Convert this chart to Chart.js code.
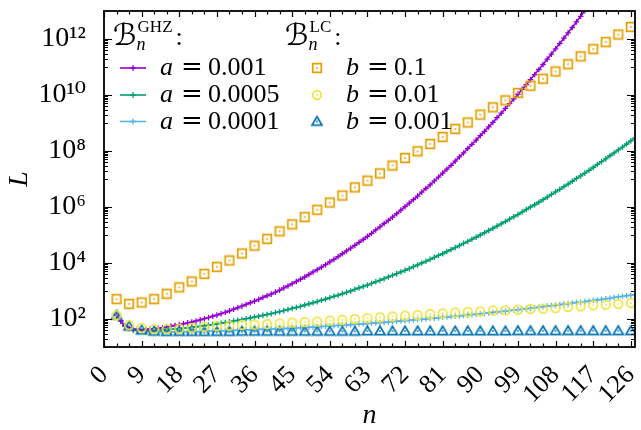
<!DOCTYPE html>
<html>
<head>
<meta charset="utf-8">
<script src="https://cdn.jsdelivr.net/npm/chart.js@4.4.1/dist/chart.umd.min.js"></script>
<style>
  html, body { margin: 0; padding: 0; background: #fff; }
  canvas { display: block; }
</style>
</head>
<body>
<canvas id="c" width="641" height="430"></canvas>
<script>
// ---------------- data (values are log10 of L) ----------------
const nGHZ = [3,4,5,6,7,8,9,10,11,12,13,14,15,16,17,18,19,20,21,22,23,24,25,26,27,28,29,30,31,32,
  33,34,35,36,37,38,39,40,41,42,43,44,45,46,47,48,49,50,51,52,53,54,55,56,57,58,59,60,61,62,
  63,64,65,66,67,68,69,70,71,72,73,74,75,76,77,78,79,80,81,82,83,84,85,86,87,88,89,90,91,92,
  93,94,95,96,97,98,99,100,101,102,103,104,105,106,107,108,109,110,111,112,113,114,115,116,117,118,119,120,121,122,
  123,124,125,126,127];
const nLC = [3,6,9,12,15,18,21,24,27,30,33,36,39,42,45,48,51,54,57,60,63,66,69,72,75,78,81,84,87,90,
  93,96,99,102,105,108,111,114,117,120,123,126];

const lgA001 = [2.14,1.93,1.76,1.68,1.64,1.63,1.62,1.63,1.64,1.65,
  1.67,1.69,1.72,1.74,1.77,1.80,1.83,1.86,1.89,1.93,
  1.97,2.01,2.05,2.10,2.14,2.19,2.24,2.29,2.35,2.40,
  2.46,2.52,2.58,2.64,2.70,2.77,2.83,2.89,2.96,3.03,
  3.11,3.18,3.26,3.34,3.42,3.50,3.59,3.68,3.76,3.85,
  3.94,4.04,4.13,4.23,4.33,4.43,4.53,4.63,4.74,4.84,
  4.95,5.06,5.18,5.29,5.41,5.52,5.64,5.76,5.89,6.01,
  6.14,6.26,6.39,6.53,6.66,6.79,6.93,7.07,7.21,7.35,
  7.49,7.64,7.79,7.93,8.09,8.24,8.39,8.55,8.70,8.86,
  9.02,9.19,9.35,9.52,9.69,9.86,10.03,10.20,10.37,10.55,
  10.73,10.91,11.09,11.28,11.46,11.65,11.84,12.03,12.22,12.41,
  12.61,12.81,13.01,13.21,13.41];
const lgA0005 = [2.13,1.93,1.75,1.67,1.62,1.60,1.59,1.58,1.58,1.58,
  1.59,1.61,1.62,1.63,1.65,1.66,1.67,1.68,1.70,1.72,
  1.74,1.76,1.78,1.80,1.83,1.85,1.87,1.90,1.93,1.95,
  1.98,2.01,2.04,2.07,2.10,2.13,2.16,2.19,2.23,2.26,
  2.30,2.34,2.38,2.41,2.45,2.50,2.54,2.58,2.62,2.67,
  2.71,2.76,2.81,2.85,2.90,2.95,3.00,3.06,3.11,3.16,
  3.21,3.27,3.33,3.38,3.44,3.50,3.56,3.62,3.68,3.74,
  3.80,3.87,3.93,4.00,4.06,4.13,4.20,4.27,4.33,4.41,
  4.48,4.55,4.62,4.70,4.77,4.85,4.92,5.00,5.08,5.16,
  5.24,5.32,5.40,5.48,5.57,5.65,5.73,5.82,5.91,6.00,
  6.08,6.17,6.26,6.35,6.45,6.54,6.63,6.73,6.82,6.92,
  7.02,7.11,7.21,7.31,7.41,7.52,7.62,7.72,7.83,7.93,
  8.04,8.14,8.25,8.36,8.47];
const lgA0001 = [2.13,1.92,1.74,1.65,1.60,1.58,1.56,1.55,1.54,1.53,
  1.53,1.53,1.54,1.54,1.54,1.54,1.55,1.55,1.55,1.55,
  1.55,1.56,1.56,1.57,1.57,1.58,1.58,1.59,1.59,1.60,
  1.60,1.61,1.61,1.62,1.63,1.63,1.64,1.64,1.64,1.65,
  1.66,1.66,1.67,1.68,1.69,1.70,1.70,1.71,1.72,1.73,
  1.74,1.75,1.76,1.77,1.78,1.79,1.80,1.81,1.82,1.83,
  1.84,1.85,1.86,1.87,1.88,1.89,1.90,1.92,1.93,1.94,
  1.95,1.97,1.98,1.99,2.00,2.02,2.03,2.04,2.06,2.07,
  2.09,2.10,2.11,2.13,2.14,2.16,2.17,2.19,2.20,2.22,
  2.24,2.25,2.27,2.28,2.30,2.32,2.33,2.35,2.37,2.38,
  2.40,2.42,2.44,2.46,2.47,2.49,2.51,2.53,2.55,2.57,
  2.59,2.60,2.62,2.64,2.66,2.68,2.70,2.72,2.74,2.77,
  2.79,2.81,2.83,2.85,2.87];

const lgB01 = [2.71,2.54,2.59,2.71,2.90,3.13,3.34,3.61,3.86,4.09,4.34,4.62,4.86,5.13,5.38,5.64,5.90,6.16,6.41,6.70,
  6.94,7.20,7.48,7.75,7.99,8.25,8.50,8.79,9.02,9.30,9.56,9.81,10.07,10.33,10.58,10.84,11.10,11.38,11.64,11.89,12.16,12.43];
const lgB001 = [2.13,1.78,1.68,1.64,1.64,1.65,1.68,1.71,1.74,1.76,1.79,1.80,1.82,1.84,1.87,1.89,1.91,1.94,1.97,2.00,
  2.03,2.06,2.09,2.12,2.14,2.18,2.20,2.23,2.25,2.27,2.30,2.31,2.33,2.36,2.37,2.39,2.43,2.45,2.49,2.51,2.54,2.57];
const lgB0001 = [2.13,1.74,1.60,1.56,1.55,1.55,1.55,1.55,1.55,1.55,1.56,1.56,1.56,1.56,1.56,1.56,1.56,1.56,1.56,1.56,
  1.57,1.57,1.57,1.57,1.57,1.57,1.57,1.57,1.57,1.57,1.57,1.57,1.58,1.58,1.58,1.58,1.58,1.58,1.58,1.58,1.58,1.58];

const ghzParams = ['0.001', '0.0005', '0.0001'];
const lcParams = ['0.1', '0.01', '0.001'];

const xTickValues = [0,9,18,27,36,45,54,63,72,81,90,99,108,117,126];
const yTickValues = [1e2,1e4,1e6,1e8,1e10,1e12];
const yTickLabels = ['10\u00B2','10\u2074','10\u2076','10\u2078','10\u00B9\u2070','10\u00B9\u00B2'];

// ---------------- styling ----------------
const SERIF = '"Liberation Serif", "DejaVu Serif", serif';
const GHZ_COLORS = ['#9400d3', '#009e73', '#56b4e9'];
const LC_COLORS = ['#e69f00', '#f0e442', '#0072b2'];

function marker(shape, color) {
  const c = document.createElement('canvas');
  c.width = 14; c.height = 14;
  const g = c.getContext('2d');
  g.strokeStyle = color; g.fillStyle = color; g.lineWidth = 1.7;
  const m = 7;
  g.beginPath();
  if (shape === 'square') {
    g.rect(m - 4.3, m - 4.3, 8.6, 8.6);
  } else if (shape === 'circle') {
    g.arc(m, m, 4.3, 0, 2 * Math.PI);
  } else {
    g.moveTo(m, m - 4.8); g.lineTo(m + 5, m + 3.6); g.lineTo(m - 5, m + 3.6); g.closePath();
  }
  g.stroke();
  g.fillRect(m - 0.8, m - 0.8, 1.6, 1.6);
  return c;
}
const LC_MARKERS = [marker('square', LC_COLORS[0]), marker('circle', LC_COLORS[1]), marker('triangle', LC_COLORS[2])];

function toPoints(xs, lg) { return lg.map((v, i) => ({ x: xs[i], y: Math.pow(10, v) })); }

const ghzSeries = [lgA001, lgA0005, lgA0001];
const lcSeries = [lgB01, lgB001, lgB0001];

const datasets = [];
ghzSeries.forEach((lg, i) => {
  datasets.push({
    label: 'a = ' + ghzParams[i],
    data: toPoints(nGHZ, lg),
    showLine: true,
    borderColor: GHZ_COLORS[i],
    backgroundColor: GHZ_COLORS[i],
    borderWidth: 1.6,
    pointStyle: 'cross',
    pointRadius: 2.8,
    pointBorderWidth: 1.3,
    pointBorderColor: GHZ_COLORS[i],
    order: 2
  });
});
lcSeries.forEach((lg, i) => {
  datasets.push({
    label: 'b = ' + lcParams[i],
    data: toPoints(nLC, lg),
    showLine: false,
    borderColor: LC_COLORS[i],
    backgroundColor: LC_COLORS[i],
    pointStyle: LC_MARKERS[i],
    pointRadius: 5,
    order: 1
  });
});

// frame + inward tick marks on all four sides
const framePlugin = {
  id: 'frame',
  afterDatasetsDraw(chart) {
    const { ctx, chartArea: a, scales: { x, y } } = chart;
    ctx.save();
    ctx.strokeStyle = '#000';
    ctx.lineWidth = 1.2;
    ctx.beginPath();
    for (let v = 0; v <= 127; v += 3) {
      const px = Math.round(x.getPixelForValue(v)) + 0.5;
      const len = (v % 9 === 0) ? 6 : 3.5;
      ctx.moveTo(px, a.bottom); ctx.lineTo(px, a.bottom - len);
      ctx.moveTo(px, a.top); ctx.lineTo(px, a.top + len);
    }
    for (let e = 1; e <= 11; e += 2) {
      for (let k = 1; k <= 9; k++) {
        const py = Math.round(y.getPixelForValue(k * Math.pow(10, e))) + 0.5;
        ctx.moveTo(a.left, py); ctx.lineTo(a.left + 4, py);
        ctx.moveTo(a.right, py); ctx.lineTo(a.right - 4, py);
      }
    }
    yTickValues.forEach(v => {
      const py = Math.round(y.getPixelForValue(v)) + 0.5;
      ctx.moveTo(a.left, py); ctx.lineTo(a.left + 8, py);
      ctx.moveTo(a.right, py); ctx.lineTo(a.right - 8, py);
    });
    ctx.stroke();
    ctx.lineWidth = 1.8;
    ctx.strokeRect(a.left, a.top, a.right - a.left, a.bottom - a.top);
    ctx.restore();
  }
};

// LaTeX-like two-column legend
function header(ctx, x, base, sup) {
  ctx.font = '30px "DejaVu Serif", "DejaVu Sans", serif';
  ctx.fillText('\u212C', x, base);
  const w = ctx.measureText('\u212C').width;
  ctx.font = '17px ' + SERIF;
  ctx.fillText(sup, x + w + 1, base - 13);
  const ws = ctx.measureText(sup).width;
  ctx.font = 'italic 18px ' + SERIF;
  ctx.fillText('n', x + w, base + 5);
  ctx.font = '26px ' + SERIF;
  ctx.fillText(':', x + w + ws + 4, base);
}
function mathText(ctx, x, base, letter, value) {
  ctx.font = 'italic 26px ' + SERIF;
  ctx.fillText(letter, x, base);
  ctx.font = '26px "DejaVu Serif", serif';
  ctx.fillText('=', x + 21, base);
  ctx.font = '26px ' + SERIF;
  ctx.fillText(value, x + 48, base);
}
const legendPlugin = {
  id: 'texLegend',
  afterDraw(chart) {
    const ctx = chart.ctx;
    ctx.save();
    ctx.fillStyle = '#000';
    ctx.textBaseline = 'alphabetic';
    ctx.textAlign = 'left';
    header(ctx, 113, 45, 'GHZ');
    header(ctx, 285, 45, 'LC');
    const rowsY = [68, 95, 121.5];
    ghzParams.forEach((p, i) => {
      const yy = rowsY[i];
      ctx.strokeStyle = GHZ_COLORS[i];
      ctx.lineWidth = 1.6;
      ctx.beginPath(); ctx.moveTo(120, yy); ctx.lineTo(146, yy); ctx.stroke();
      ctx.lineWidth = 1.3;
      ctx.beginPath(); ctx.moveTo(130, yy); ctx.lineTo(136, yy); ctx.moveTo(133, yy - 3); ctx.lineTo(133, yy + 3); ctx.stroke();
      ctx.fillStyle = '#000';
      mathText(ctx, 160, yy + 7, 'a', p);
    });
    lcParams.forEach((p, i) => {
      const yy = rowsY[i];
      ctx.drawImage(LC_MARKERS[i], 317 - 7, yy - 7);
      ctx.fillStyle = '#000';
      mathText(ctx, 346, yy + 7, 'b', p);
    });
    ctx.restore();
  }
};

new Chart(document.getElementById('c'), {
  type: 'scatter',
  data: { datasets },
  options: {
    responsive: false,
    animation: false,
    devicePixelRatio: 1,
    layout: { padding: { left: 0, right: 5, top: 11, bottom: 0 } },
    plugins: { legend: { display: false }, tooltip: { enabled: false } },
    scales: {
      x: {
        type: 'linear', min: 0, max: 127,
        grid: { display: false, drawTicks: false },
        border: { display: false },
        ticks: {
          autoSkip: false, minRotation: 45, maxRotation: 45, padding: 13, color: '#000',
          font: { family: SERIF, size: 26 },
          callback: (v) => String(v)
        },
        afterBuildTicks: (s) => { s.ticks = xTickValues.map(v => ({ value: v })); },
        afterFit: (s) => { s.height = 83; s.paddingLeft = 0; s.paddingRight = 0; },
        title: { display: true, text: 'n', color: '#000', font: { family: SERIF, size: 28, style: 'italic', lineHeight: 1 }, padding: { top: 0, bottom: 0 } }
      },
      y: {
        type: 'logarithmic', min: 10, max: 1e13,
        grid: { display: false, drawTicks: false },
        border: { display: false },
        ticks: {
          autoSkip: false, padding: 18, color: '#000',
          font: { family: SERIF, size: 28 },
          callback: (v) => { const i = yTickValues.indexOf(v); return i >= 0 ? yTickLabels[i] : ''; }
        },
        afterBuildTicks: (s) => { s.ticks = yTickValues.map(v => ({ value: v })); },
        afterFit: (s) => { s.width = 104; s.paddingTop = 0; s.paddingBottom = 0; },
        title: { display: true, text: 'L', color: '#000', font: { family: SERIF, size: 28, style: 'italic', lineHeight: 1 }, padding: { top: 6, bottom: 0 } }
      }
    }
  },
  plugins: [framePlugin, legendPlugin]
});
</script>
</body>
</html>
